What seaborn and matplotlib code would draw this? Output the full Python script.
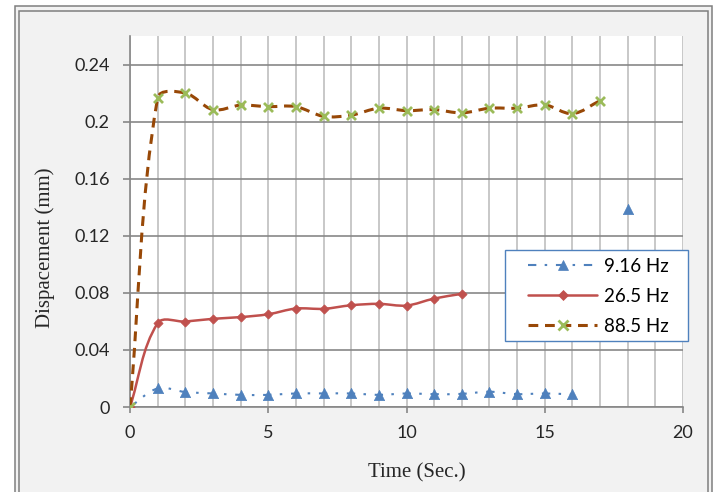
import numpy as np
import matplotlib
matplotlib.use("Agg")
import matplotlib.pyplot as plt
import seaborn as sns
from matplotlib.patches import Rectangle, PathPatch
from matplotlib.path import Path
from matplotlib.lines import Line2D
from matplotlib.ticker import MultipleLocator, FixedLocator, FixedFormatter

# ---- data -------------------------------------------------------------
time_s = list(range(0, 19))
nan = np.nan
disp_9_16 = [0, 0.013, 0.0105, 0.0095, 0.0085, 0.0085, 0.0095, 0.0095, 0.0095,
             0.0085, 0.0095, 0.0090, 0.0092, 0.0107, 0.0090, 0.0095, 0.0088, nan, 0.139]
disp_26_5 = [0, 0.0587, 0.0599, 0.0618, 0.0630, 0.0650, 0.0690, 0.0688, 0.0713,
             0.0723, 0.0711, 0.0760, 0.0793, nan, nan, nan, nan, nan, nan]
disp_88_5 = [0, 0.2166, 0.2200, 0.2084, 0.2115, 0.2105, 0.2105, 0.2037, 0.2045,
             0.2094, 0.2077, 0.2084, 0.2061, 0.2094, 0.2094, 0.2117, 0.2056, 0.2147, nan]
series_labels = ["9.16 Hz", "26.5 Hz", "88.5 Hz"]
x_ticks = [0, 5, 10, 15, 20]
y_ticks = [0, 0.04, 0.08, 0.12, 0.16, 0.20, 0.24]
y_tick_labels = ["0", "0.04", "0.08", "0.12", "0.16", "0.2", "0.24"]

# ---- style ------------------------------------------------------------
sns.set_theme(style="white")
plt.rcParams["font.family"] = ["Lato", "DejaVu Sans"]

BLUE, RED, BROWN, GREEN = "#4f81bd", "#c0504d", "#984807", "#9bbb59"
W, H = 720, 492

fig = plt.figure(figsize=(W / 100, H / 100), dpi=100, facecolor="white")

# chart-area background with double border
fig.patches.append(Rectangle((15 / W, -0.1), (712 - 15) / W, (H - 6) / H + 0.1,
                             transform=fig.transFigure, facecolor="#f2f2f2",
                             edgecolor="#7f7f7f", lw=1.1, zorder=-10))
fig.patches.append(Rectangle((19 / W, -0.1), (708 - 19) / W, (H - 11) / H + 0.1,
                             transform=fig.transFigure, facecolor="none",
                             edgecolor="#7f7f7f", lw=1.1, zorder=-9))

ax = fig.add_axes([130 / W, 1 - 407 / H, 553 / W, 371 / H], facecolor="white")
ax.set_zorder(1)
ax.set_xlim(0, 20)
ax.set_ylim(0, 0.26)


def smooth_path(xs, ys):
    """Smoothed Bezier path through each run of finite points.

    Tangents follow the neighbouring points; handle lengths are a third of
    the on-screen chord, which keeps overshoot small next to steep jumps.
    """
    xs = np.asarray(xs, float)
    ys = np.asarray(ys, float)
    ok = np.isfinite(ys)
    to_px = ax.transData.transform
    to_data = ax.transData.inverted().transform
    verts, codes = [], []
    i = 0
    n_all = len(ys)
    while i < n_all:
        if not ok[i]:
            i += 1
            continue
        j = i
        while j + 1 < n_all and ok[j + 1]:
            j += 1
        pts = to_px(np.column_stack([xs[i:j + 1], ys[i:j + 1]]))
        n = len(pts)
        if n >= 2:
            tang = []
            for k in range(n):
                d = pts[min(k + 1, n - 1)] - pts[max(k - 1, 0)]
                tang.append(d / np.hypot(*d))
            verts.append(pts[0])
            codes.append(Path.MOVETO)
            for k in range(n - 1):
                chord = np.hypot(*(pts[k + 1] - pts[k])) / 3
                verts += [pts[k] + tang[k] * chord,
                          pts[k + 1] - tang[k + 1] * chord,
                          pts[k + 1]]
                codes += [Path.CURVE4] * 3
        i = j + 1
    return Path(to_data(np.array(verts)), codes)


series = [
    (disp_9_16, BLUE, BLUE, 1.5, (0, (4, 4, 1.2, 4.2)), "^", 55, 0.5, 3),
    (disp_26_5, RED, RED, 1.8, "-", "D", 22, 0.5, 4),
    (disp_88_5, BROWN, GREEN, 2.2, (0, (3.2, 2.2)), "x", 42, 2.0, 5),
]

handles = []
for (vals, lc, mc, lw, ls, mk, ms, mlw, z), lab in zip(series, series_labels):
    ax.add_patch(PathPatch(smooth_path(time_s, vals), fill=False, edgecolor=lc,
                           lw=lw, linestyle=ls, zorder=z, capstyle="butt"))
    sns.scatterplot(x=time_s, y=vals, marker=mk, s=ms, color=mc, edgecolor=mc,
                    linewidth=mlw, ax=ax, zorder=z + 0.5, legend=False)
    handles.append(Line2D([], [], color=lc, lw=lw, linestyle=ls, marker=mk,
                          markersize=np.sqrt(ms), markerfacecolor=mc,
                          markeredgecolor=mc, markeredgewidth=mlw))

# axes, ticks and grid
ax.xaxis.set_major_locator(FixedLocator(x_ticks))
ax.xaxis.set_minor_locator(MultipleLocator(1))
ax.yaxis.set_major_locator(FixedLocator(y_ticks))
ax.yaxis.set_major_formatter(FixedFormatter(y_tick_labels))
ax.set_axisbelow(True)
ax.grid(which="both", axis="x", color="#bfbfbf", lw=1.2)
ax.grid(which="major", axis="y", color="#878787", lw=1.2)
for side in ("top", "right"):
    ax.spines[side].set_visible(False)
for side in ("left", "bottom"):
    ax.spines[side].set_color("#878787")
    ax.spines[side].set_linewidth(1.2)
ax.tick_params(axis="x", which="major", direction="out", length=4, width=1.2,
               color="#878787", pad=9, labelsize=13, bottom=True)
ax.tick_params(axis="x", which="minor", length=0)
ax.tick_params(axis="y", direction="out", length=5, width=1.2, color="#878787",
               pad=9.5, labelsize=13, left=True)
ax.set_xlabel("")
ax.set_ylabel("")

fig.text(45 / W, 1 - 248 / H, "Dispacement (mm)", rotation=90, ha="center",
         va="center", fontsize=15, family=["Liberation Serif"])
fig.text(417 / W, 1 - 473 / H, "Time (Sec.)", ha="center", va="center",
         fontsize=15, family=["Liberation Serif"])


# legend box
def ax_x(px):
    return (px - 130) / 553


def ax_y(py):
    return (407 - py) / 371


ax.add_patch(Rectangle((ax_x(505), ax_y(341)), ax_x(688) - ax_x(505),
                       ax_y(250) - ax_y(341), transform=ax.transAxes,
                       facecolor="white", edgecolor=BLUE, lw=1.0,
                       clip_on=False, zorder=8))
leg = ax.legend(handles, series_labels, loc="upper left",
                bbox_to_anchor=(ax_x(528), ax_y(258)), frameon=False,
                borderpad=0, borderaxespad=0, handlelength=3.7,
                handletextpad=0.35, labelspacing=0.68, fontsize=13.5)
leg.set_zorder(9)
for t in leg.get_texts():
    t.set_color("black")

fig.savefig("out.png", dpi=100, facecolor=fig.get_facecolor())
